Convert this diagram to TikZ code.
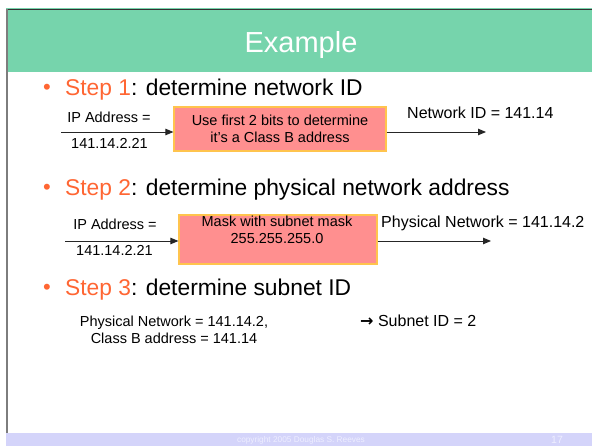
\documentclass[tikz,border=0pt]{standalone}
\usepackage{fontspec}
\setmainfont{Liberation Sans}
\newfontfamily\symfont{DejaVu Sans}
\usetikzlibrary{arrows.meta}
\definecolor{titlegreen}{RGB}{118,212,172}
\definecolor{stepor}{RGB}{255,102,51}
\definecolor{boxfill}{RGB}{255,143,143}
\definecolor{boxedge}{RGB}{255,196,77}
\definecolor{footband}{RGB}{212,212,250}
\definecolor{footink}{RGB}{238,238,255}
\definecolor{edgegray}{RGB}{125,125,125}
\begin{document}
\begin{tikzpicture}[x=1pt,y=-1pt,
  txt/.style={inner sep=0pt,anchor=base west},
  ctxt/.style={inner sep=0pt,anchor=base},
  small/.style={font=\fontsize{14.5}{17}\selectfont},
  medium/.style={font=\fontsize{16}{19}\selectfont},
  steptext/.style={txt,font=\fontsize{22.8}{26}\selectfont},
  bulletmark/.style={inner sep=0pt,anchor=center,text=stepor,font=\fontsize{22}{22}\selectfont},
  procbox/.style={draw=boxedge,fill=boxfill,line width=1.2pt,inner sep=0pt},
  flow/.style={draw=black!85,line width=0.9pt,-{Triangle[length=8pt,width=6.5pt]}}]
\useasboundingbox (0,0) rectangle (592,446);

% slide frame, title bar and footer band
\fill[white] (0,0) rectangle (592,446);
\fill[titlegreen] (6,8) rectangle (592,72);
\draw[black!80,line width=1pt] (7,9.5) -- (592,9.5);
\draw[edgegray,line width=1.6pt] (7,9) -- (7,437);
\fill[footband] (6,433) rectangle (592,446);
\node[inner sep=0pt,anchor=base,text=white,font=\fontsize{29}{33}\selectfont] (title) at (301,53) {Example};

% step 1
\node[bulletmark] (b1) at (47,89) {•};
\node[steptext] (h1) at (65,96) {{\color{stepor}Step 1}: determine network ID};
\node[procbox,minimum width=212pt,minimum height=44pt] (box1) at (280,129) {};
\node[ctxt,small] (box1a) at (280,125.7) {Use first 2 bits to determine};
\node[ctxt,small] (box1b) at (280,143) {it’s a Class B address};
\coordinate (in1) at (61,132);
\coordinate (out1) at (486,132);
\node[ctxt,small] (ip1) at (109,123) {IP Address =};
\node[ctxt,small] (ipv1) at (109.5,149) {141.14.2.21};
\node[txt,medium] (res1) at (407,119) {Network ID = 141.14};
\draw[flow] (in1) -- (box1.west |- in1);
\draw[flow] (box1.east |- out1) -- (out1);

% step 2
\node[bulletmark] (b2) at (47,189) {•};
\node[steptext] (h2) at (65,196) {{\color{stepor}Step 2}: determine physical network address};
\node[procbox,minimum width=198pt,minimum height=49pt] (box2) at (278,239.5) {};
\node[ctxt,small] (box2a) at (277,226.7) {Mask with subnet mask};
\node[ctxt,small] (box2b) at (277,244) {255.255.255.0};
\coordinate (in2) at (65,241);
\coordinate (out2) at (491,241);
\node[ctxt,small] (ip2) at (115,230) {IP Address =};
\node[ctxt,small] (ipv2) at (114.5,256) {141.14.2.21};
\node[txt,medium] (res2) at (381,228) {Physical Network = 141.14.2};
\draw[flow] (in2) -- (box2.west |- in2);
\draw[flow] (box2.east |- out2) -- (out2);

% step 3
\node[bulletmark] (b3) at (47,289) {•};
\node[steptext] (h3) at (65,296) {{\color{stepor}Step 3}: determine subnet ID};
\node[ctxt,small] (pn3) at (174,327) {Physical Network = 141.14.2,};
\node[ctxt,small] (cb3) at (174,344) {Class B address = 141.14};
\node[txt,medium] (sid3) at (360,327) {{\symfont\bfseries →} Subnet ID = 2};

% footer
\node[inner sep=0pt,anchor=base,text=footink,font=\fontsize{8.3}{9}\selectfont] (copy) at (301,442) {copyright 2005 Douglas S. Reeves};
\node[inner sep=0pt,anchor=base,text=footink,font=\fontsize{10.5}{11}\selectfont] (pg) at (557,443.5) {17};
\end{tikzpicture}
\end{document}
